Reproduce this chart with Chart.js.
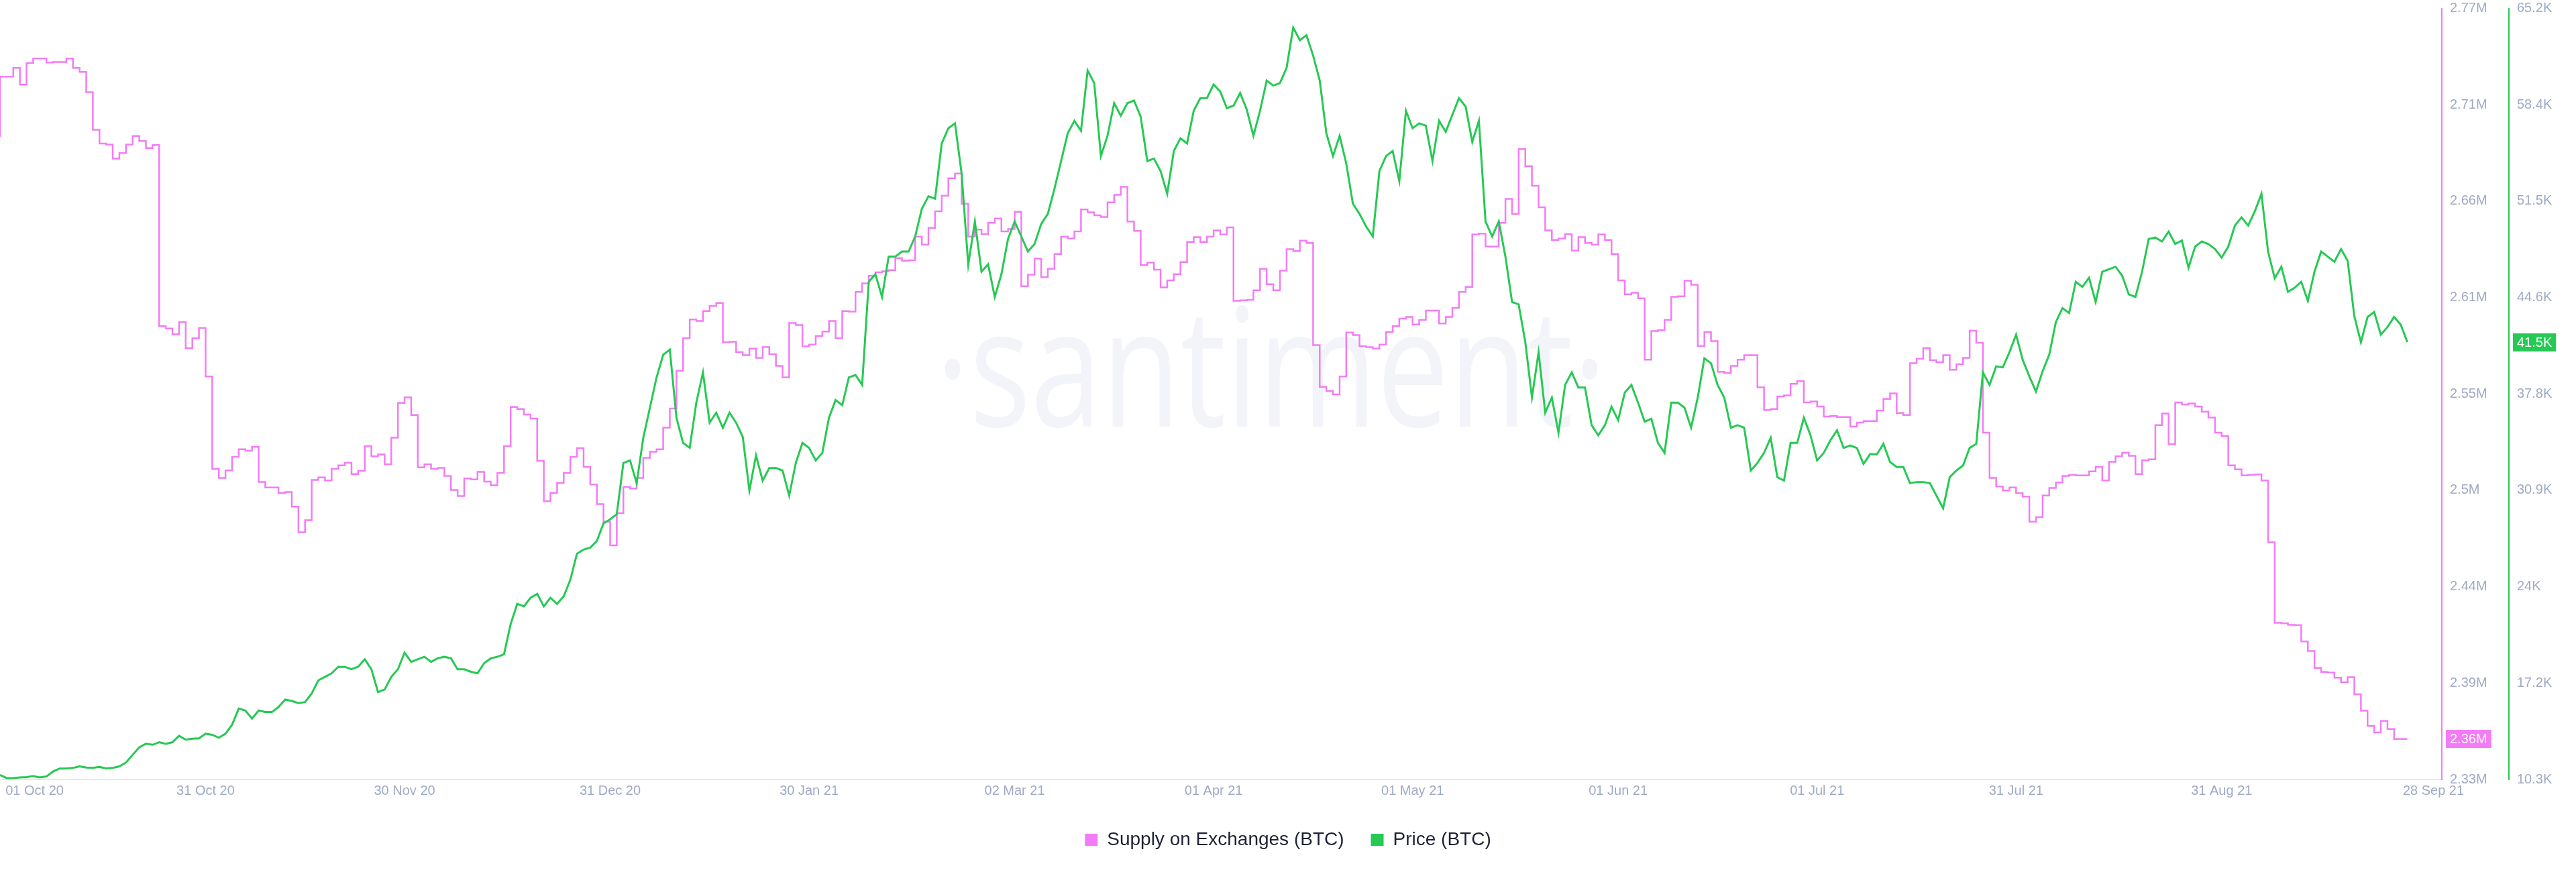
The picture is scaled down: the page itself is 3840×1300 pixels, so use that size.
<!DOCTYPE html>
<html>
<head>
<meta charset="utf-8">
<title>Supply on Exchanges vs Price (BTC)</title>
<script src="https://cdn.jsdelivr.net/npm/chart.js@4.4.0/dist/chart.umd.min.js"></script>
<style>
  html, body { margin: 0; padding: 0; background: #ffffff; }
  #wrap { width: 3840px; height: 1300px; }
</style>
</head>
<body>
<div id="wrap"><canvas id="grafico" width="3840" height="1300"></canvas></div>
<script>
// one value per day, index 0 = 30 Sep 2020, last = 28 Sep 2021
const supply = [
  2.7001, 2.7346, 2.7346, 2.7395, 2.7300, 2.7423, 2.7449, 2.7449, 2.7426, 2.7429,
  2.7429, 2.7449, 2.7395, 2.7372, 2.7257, 2.7042, 2.6964, 2.6958, 2.6878, 2.6910,
  2.6958, 2.7007, 2.6978, 2.6938, 2.6955, 2.5922, 2.5908, 2.5876, 2.5945, 2.5796,
  2.5853, 2.5911, 2.5635, 2.5107, 2.5056, 2.5099, 2.5176, 2.5219, 2.5211, 2.5233,
  2.5033, 2.5001, 2.5001, 2.4969, 2.4975, 2.4892, 2.4746, 2.4814, 2.5044, 2.5058,
  2.5041, 2.5107, 2.5127, 2.5142, 2.5078, 2.5096, 2.5236, 2.5179, 2.5190, 2.5133,
  2.5285, 2.5483, 2.5515, 2.5414, 2.5116, 2.5133, 2.5107, 2.5113, 2.5067, 2.4987,
  2.4952, 2.5053, 2.5047, 2.5090, 2.5035, 2.5013, 2.5084, 2.5236, 2.5460, 2.5449,
  2.5417, 2.5394, 2.5153, 2.4923, 2.4969, 2.5027, 2.5084, 2.5176, 2.5225, 2.5119,
  2.5018, 2.4906, 2.4806, 2.4671, 2.4855, 2.5004, 2.4995, 2.5056, 2.5170, 2.5205,
  2.5219, 2.5343, 2.5452, 2.5667, 2.5853, 2.5960, 2.5951, 2.6008, 2.6037, 2.6054,
  2.5830, 2.5833, 2.5773, 2.5756, 2.5793, 2.5741, 2.5802, 2.5762, 2.5695, 2.5630,
  2.5940, 2.5928, 2.5807, 2.5816, 2.5865, 2.5891, 2.5951, 2.5853, 2.6008, 2.6005,
  2.6117, 2.6166, 2.6209, 2.6229, 2.6235, 2.6241, 2.6310, 2.6295, 2.6298, 2.6433,
  2.6387, 2.6482, 2.6577, 2.6666, 2.6766, 2.6792, 2.6620, 2.6433, 2.6473, 2.6447,
  2.6511, 2.6536, 2.6462, 2.6476, 2.6574, 2.6149, 2.6215, 2.6307, 2.6201, 2.6249,
  2.6333, 2.6433, 2.6422, 2.6462, 2.6588, 2.6571, 2.6554, 2.6545, 2.6628, 2.6671,
  2.6717, 2.6519, 2.6465, 2.6270, 2.6284, 2.6244, 2.6143, 2.6183, 2.6218, 2.6287,
  2.6402, 2.6430, 2.6402, 2.6433, 2.6468, 2.6445, 2.6485, 2.6066, 2.6069, 2.6072,
  2.6126, 2.6249, 2.6161, 2.6126, 2.6238, 2.6361, 2.6350, 2.6410, 2.6396, 2.5813,
  2.5575, 2.5552, 2.5532, 2.5635, 2.5885, 2.5871, 2.5808, 2.5802, 2.5793, 2.5816,
  2.5888, 2.5922, 2.5965, 2.5974, 2.5931, 2.5957, 2.6011, 2.6011, 2.5937, 2.5974,
  2.6026, 2.6117, 2.6146, 2.6445, 2.6450, 2.6376, 2.6376, 2.6511, 2.6648, 2.6562,
  2.6932, 2.6835, 2.6723, 2.6600, 2.6468, 2.6413, 2.6422, 2.6447, 2.6353, 2.6430,
  2.6396, 2.6387, 2.6445, 2.6413, 2.6333, 2.6183, 2.6103, 2.6112, 2.6080, 2.5730,
  2.5894, 2.5899, 2.5957, 2.6089, 2.6092, 2.6181, 2.6158, 2.5808, 2.5888, 2.5836,
  2.5661, 2.5655, 2.5695, 2.5730, 2.5756, 2.5756, 2.5572, 2.5443, 2.5449, 2.5521,
  2.5526, 2.5592, 2.5609, 2.5486, 2.5492, 2.5463, 2.5406, 2.5409, 2.5403, 2.5403,
  2.5348, 2.5371, 2.5380, 2.5380, 2.5440, 2.5506, 2.5538, 2.5426, 2.5414, 2.5710,
  2.5736, 2.5796, 2.5727, 2.5716, 2.5756, 2.5673, 2.5704, 2.5741, 2.5896, 2.5827,
  2.5314, 2.5056, 2.5007, 2.4984, 2.5001, 2.4969, 2.4949, 2.4806, 2.4832, 2.4955,
  2.4998, 2.5030, 2.5067, 2.5073, 2.5070, 2.5070, 2.5093, 2.5119, 2.5041, 2.5147,
  2.5179, 2.5199, 2.5182, 2.5078, 2.5156, 2.5162, 2.5357, 2.5423, 2.5248, 2.5486,
  2.5475, 2.5480, 2.5463, 2.5434, 2.5400, 2.5314, 2.5294, 2.5127, 2.5104, 2.5070,
  2.5073, 2.5076, 2.5041, 2.4688, 2.4229, 2.4226, 2.4217, 2.4215, 2.4123, 2.4068,
  2.3971, 2.3948, 2.3945, 2.3916, 2.3890, 2.3919, 2.3821, 2.3727, 2.3640, 2.3603,
  2.3669, 2.3623, 2.3566, 2.3566
];

const price = [
  10.64, 10.42, 10.42, 10.46, 10.49, 10.56, 10.46, 10.53, 10.89, 11.10,
  11.10, 11.14, 11.25, 11.17, 11.14, 11.21, 11.10, 11.14, 11.25, 11.53,
  12.07, 12.61, 12.86, 12.79, 12.97, 12.86, 12.97, 13.43, 13.15, 13.22,
  13.25, 13.58, 13.50, 13.29, 13.58, 14.22, 15.37, 15.23, 14.65, 15.23,
  15.12, 15.12, 15.48, 16.01, 15.91, 15.76, 15.83, 16.44, 17.38, 17.63,
  17.88, 18.34, 18.34,
  18.17, 18.35, 18.88, 18.17, 16.55, 16.73, 17.63, 18.17, 19.35, 18.70,
  18.88, 19.06, 18.70, 18.95, 19.06, 18.95, 18.17, 18.17, 17.99, 17.88,
  18.60, 18.95, 19.06, 19.24, 21.39, 22.83, 22.65, 23.26, 23.54, 22.65,
  23.26, 22.83, 23.37, 24.55, 26.41, 26.70, 26.84, 27.31, 28.57, 28.85,
  29.21, 32.87, 33.05, 31.43, 34.66, 36.81, 38.96, 40.58, 40.94, 36.10,
  34.30, 33.95, 37.17,
  39.32, 35.74, 36.45, 35.38, 36.45, 35.74, 34.73, 30.90, 33.41, 31.61,
  32.51, 32.51, 32.33, 30.54, 32.87, 34.30, 33.94, 33.05, 33.59, 36.10,
  37.35, 36.99, 38.97, 39.14, 38.43, 45.78, 46.32, 44.70, 47.57, 47.57,
  47.93, 47.93, 49.01, 50.98, 51.87, 51.70, 55.64, 56.72, 57.07, 53.49,
  47.00, 50.08, 46.50, 47.03, 44.70, 46.32, 48.83, 50.08, 49.01, 47.93,
  48.47, 49.90,
  50.62, 52.41, 54.38, 56.36, 57.25, 56.54, 60.84, 59.94, 54.74, 56.18,
  58.51, 57.61, 58.51, 58.69, 57.54, 54.38, 54.56, 53.67, 52.05, 55.10,
  56.00, 55.64, 57.97, 58.87, 58.87, 59.84, 59.33, 58.15, 58.33, 59.23,
  58.04, 56.18, 57.97, 60.12, 59.76, 59.94, 61.02, 63.89, 62.99, 63.35,
  61.91, 60.12, 56.36, 54.74, 56.18, 54.21, 51.34, 50.62, 49.72, 49.01,
  53.67, 54.74, 55.10,
  52.95, 57.97, 56.72, 57.07, 56.90, 54.38, 57.25, 56.46, 57.68, 58.87,
  58.26, 55.75, 57.25, 50.08, 49.01, 50.08, 47.57, 44.34, 44.16, 41.47,
  37.53, 40.76, 36.45, 37.53, 35.02, 38.43, 39.32, 38.25, 38.25, 35.56,
  34.84, 35.56, 36.88, 35.92, 37.89, 38.43, 37.17, 35.81, 36.02, 34.30,
  33.59, 37.17, 37.17, 36.81, 35.38, 37.53, 40.33, 39.97, 38.43, 37.53,
  35.38, 35.56, 35.38,
  32.33, 32.87, 33.59, 34.66, 31.86, 31.61, 34.30, 34.30, 36.10, 34.84,
  33.05, 33.59, 34.48, 35.20, 33.94, 34.12, 33.94, 32.80, 33.51, 33.48,
  34.23, 32.94, 32.58, 32.58, 31.43, 31.51, 31.51, 31.43, 30.54, 29.64,
  31.86, 32.33, 32.69, 33.94, 34.23, 39.32, 38.43, 39.75, 39.68, 40.76,
  42.01, 40.22, 39.04, 37.96, 39.40, 40.58, 42.91, 43.91, 43.55, 45.78,
  45.42, 46.06,
  44.34, 46.50, 46.67, 46.85, 46.21, 44.88, 44.70, 46.50, 48.83, 48.93,
  48.65, 49.36, 48.47, 48.72, 46.78, 48.29, 48.65, 48.47, 48.11, 47.50,
  48.29, 49.79, 50.37, 49.79, 50.80, 52.05, 47.93, 46.03, 46.85, 45.06,
  45.35, 45.78, 44.42, 46.50, 47.93, 47.57, 47.21, 48.11, 47.28, 43.34,
  41.47, 43.27, 43.63, 42.01, 42.55, 43.27, 42.73, 41.48
];

// x ticks: day index and text
const xTickDays = [1, 31, 61, 92, 122, 153, 183, 213, 244, 274, 304, 335, 363];
const xTickLabels = ['01 Oct 20', '31 Oct 20', '30 Nov 20', '31 Dec 20', '30 Jan 21', '02 Mar 21',
  '01 Apr 21', '01 May 21', '01 Jun 21', '01 Jul 21', '31 Jul 21', '31 Aug 21', '28 Sep 21'];

const supplyTickLabels = ['2.33M', '2.39M', '2.44M', '2.5M', '2.55M', '2.61M', '2.66M', '2.71M', '2.77M'];
const priceTickLabels = ['10.3K', '17.2K', '24K', '30.9K', '37.8K', '44.6K', '51.5K', '58.4K', '65.2K'];

const supplyRange = [2.3335, 2.7735];
const priceRange = [10.32, 65.26];

const PINK = '#f47bf7';
const GREEN = '#26c953';
const AXIS_TEXT = '#9faac4';
const FONT = '"Liberation Sans", Arial, sans-serif';

function paraPontos(valores) {
  return valores.map((v, i) => ({ x: i, y: v }));
}

function ticksIguais(rotulos, faixa) {
  return function (scale) {
    const passo = (faixa[1] - faixa[0]) / (rotulos.length - 1);
    scale.ticks = rotulos.map((_, k) => ({ value: faixa[0] + k * passo }));
  };
}

function rotuloX(value, index) {
  const txt = xTickLabels[index];
  // first and last dates are drawn to the right of their day, like the original
  if (index === 0) return ' '.repeat(15) + txt;
  if (index === xTickLabels.length - 1) return ' '.repeat(14) + txt;
  return txt;
}

function eixoY(cor, rotulos, faixa) {
  return {
    type: 'linear',
    position: 'right',
    min: faixa[0],
    max: faixa[1],
    grid: { display: false, drawTicks: false },
    border: { display: true, color: cor, width: 2 },
    afterBuildTicks: ticksIguais(rotulos, faixa),
    afterFit(scale) {
      scale.width = 100;
      scale.paddingTop = 0;
      scale.paddingBottom = 0;
    },
    ticks: {
      padding: 12,
      color: AXIS_TEXT,
      font: { family: FONT, size: 20 },
      callback: (v, i) => rotulos[i]
    }
  };
}

// faint watermark behind the lines
const marcaDagua = {
  id: 'marcaDagua',
  beforeDatasetsDraw(chart) {
    const ctx = chart.ctx;
    const txt = '·santiment·';
    ctx.save();
    ctx.font = '245px "Open Sans"';
    ctx.fillStyle = '#f3f4f9';
    ctx.textBaseline = 'alphabetic';
    const w = ctx.measureText(txt).width;
    ctx.translate(1395, 636);
    ctx.scale(1000 / w, 1);
    ctx.fillText(txt, 0, 0);
    ctx.restore();
  }
};

// last value badges on the right axes
const formatos = {
  ySupply: v => v.toFixed(2) + 'M',
  yPrice: v => v.toFixed(1) + 'K'
};

const etiquetas = {
  id: 'etiquetas',
  afterDraw(chart) {
    const ctx = chart.ctx;
    chart.data.datasets.forEach(ds => {
      const escala = chart.scales[ds.yAxisID];
      const ultimo = ds.data[ds.data.length - 1].y;
      const y = escala.getPixelForValue(ultimo);
      const txt = formatos[ds.yAxisID](ultimo);
      ctx.save();
      ctx.font = '20px ' + FONT;
      const w = ctx.measureText(txt).width;
      const x = escala.left + 6;
      ctx.fillStyle = ds.borderColor;
      ctx.fillRect(x, Math.round(y - 13.5), w + 12, 27);
      ctx.fillStyle = '#ffffff';
      ctx.textBaseline = 'middle';
      ctx.textAlign = 'left';
      ctx.fillText(txt, x + 6, y + 1);
      ctx.restore();
    });
  }
};

function criarGrafico() {
  const ctx = document.getElementById('grafico').getContext('2d');

  new Chart(ctx, {
    type: 'line',
    data: {
      datasets: [
        {
          label: 'Supply on Exchanges (BTC)',
          data: paraPontos(supply),
          yAxisID: 'ySupply',
          borderColor: PINK,
          backgroundColor: PINK,
          borderWidth: 2.5,
          stepped: 'after',
          pointRadius: 0,
          order: 1
        },
        {
          label: 'Price (BTC)',
          data: paraPontos(price),
          yAxisID: 'yPrice',
          borderColor: GREEN,
          backgroundColor: GREEN,
          borderWidth: 3,
          tension: 0,
          pointRadius: 0,
          order: 0
        }
      ]
    },
    options: {
      responsive: false,
      devicePixelRatio: 1,
      animation: false,
      events: [],
      layout: { padding: { top: 12.5, left: 0, right: 0, bottom: 24 } },
      scales: {
        x: {
          type: 'linear',
          min: 0,
          max: 368.2,
          grid: { display: false, drawTicks: false },
          border: { display: true, color: '#e3e7f0', width: 2 },
          afterBuildTicks(scale) {
            scale.ticks = xTickDays.map(d => ({ value: d }));
          },
          afterFit(scale) {
            scale.height = 36;
            scale.paddingLeft = 0;
            scale.paddingRight = 0;
          },
          ticks: {
            autoSkip: false,
            maxRotation: 0,
            padding: 5,
            color: AXIS_TEXT,
            font: { family: FONT, size: 20 },
            callback: rotuloX
          }
        },
        ySupply: eixoY(PINK, supplyTickLabels, supplyRange),
        yPrice: eixoY(GREEN, priceTickLabels, priceRange)
      },
      plugins: {
        tooltip: { enabled: false },
        legend: {
          position: 'bottom',
          labels: {
            boxWidth: 19,
            boxHeight: 18,
            padding: 40,
            color: '#1e2235',
            font: { family: FONT, size: 28 },
            sort: (a, b) => a.datasetIndex - b.datasetIndex,
            generateLabels(chart) {
              return Chart.defaults.plugins.legend.labels.generateLabels(chart)
                .map(item => Object.assign(item, { lineWidth: 0, strokeStyle: 'rgba(0,0,0,0)' }));
            }
          }
        }
      }
    },
    plugins: [marcaDagua, etiquetas]
  });
}

window.onload = function () {
  criarGrafico();
};
</script>
</body>
</html>
